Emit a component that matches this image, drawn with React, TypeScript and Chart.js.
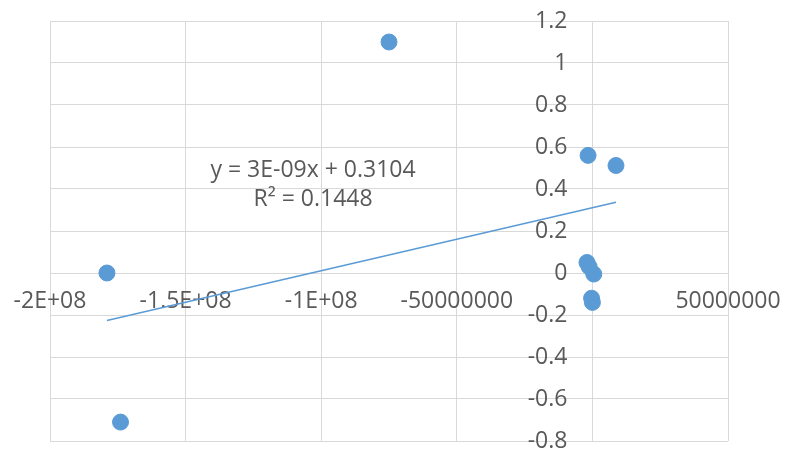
import { useEffect, useRef } from "react";
import { Chart, registerables } from "chart.js";

Chart.register(...registerables);

// ---- data ----
const xValues = [-1.79e8, -1.74e8, -7.5e7, -1.6e6, 8.7e6, -2.0e6, -1.2e6, 5e5, -3e5, 0];
const yValues = [0, -0.71, 1.1, 0.56, 0.512, 0.05, 0.03, -0.005, -0.12, -0.14];

const trendSlope = 3e-9;
const trendIntercept = 0.3104;
const trendLabelLines = ["y = 3E-09x + 0.3104", "R\u00B2 = 0.1448"];
const trendLabelX = -1.03e8;
const trendLabelY = [0.49, 0.35];

const xTickValues = [-2e8, -1.5e8, -1e8, -5e7, 0, 5e7];
const xTickLabels = ["-2E+08", "-1.5E+08", "-1E+08", "-50000000", "0", "50000000"];
const yTickValues = [-0.8, -0.6, -0.4, -0.2, 0, 0.2, 0.4, 0.6, 0.8, 1, 1.2];
const yTickLabels = ["-0.8", "-0.6", "-0.4", "-0.2", "0", "0.2", "0.4", "0.6", "0.8", "1", "1.2"];

const BLUE = "#5b9bd5";
const GRID = "#d9d9d9";
const TEXT = "#595959";
const FONT_FAMILY = "'Open Sans', 'Liberation Sans', Arial, sans-serif";
const FONT_SIZE = 23;

const labelsPlugin = {
  id: "customLabels",
  beforeDatasetsDraw(chart: any) {
    const { ctx, scales } = chart;
    const xs = scales.x;
    const ys = scales.y;
    const x0 = xs.getPixelForValue(0);
    const y0 = ys.getPixelForValue(0);
    ctx.save();
    ctx.fillStyle = TEXT;
    ctx.font = `${FONT_SIZE}px ${FONT_FAMILY}`;
    ctx.textAlign = "right";
    ctx.textBaseline = "middle";
    yTickValues.forEach((v, i) => {
      ctx.fillText(yTickLabels[i], x0 - 25, ys.getPixelForValue(v));
    });
    ctx.textAlign = "center";
    xTickValues.forEach((v, i) => {
      ctx.fillText(xTickLabels[i], xs.getPixelForValue(v), y0 + 28);
    });
    ctx.restore();
  },
  afterDatasetsDraw(chart: any) {
    const { ctx, scales } = chart;
    const tx = scales.x.getPixelForValue(trendLabelX);
    ctx.save();
    ctx.fillStyle = TEXT;
    ctx.font = `${FONT_SIZE}px ${FONT_FAMILY}`;
    ctx.textAlign = "center";
    ctx.textBaseline = "middle";
    trendLabelLines.forEach((line, i) => {
      ctx.fillText(line, tx, scales.y.getPixelForValue(trendLabelY[i]));
    });
    ctx.restore();
  },
};

function zeroFit(scale: any) {
  if (scale.isHorizontal()) scale.height = 0;
  else scale.width = 0;
  scale.paddingLeft = 0;
  scale.paddingRight = 0;
  scale.paddingTop = 0;
  scale.paddingBottom = 0;
}

export default function App() {
  const canvasRef = useRef<HTMLCanvasElement | null>(null);

  useEffect(() => {
    document.body.style.margin = "0";
    const canvas = canvasRef.current;
    if (!canvas) return;

    const points = xValues.map((x, i) => ({ x, y: yValues[i] }));
    const minX = Math.min(...xValues);
    const maxX = Math.max(...xValues);
    const trend = [
      { x: minX, y: trendSlope * minX + trendIntercept },
      { x: maxX, y: trendSlope * maxX + trendIntercept },
    ];

    const chart = new Chart(canvas, {
      type: "scatter",
      data: {
        datasets: [
          {
            label: "Trend",
            data: trend,
            showLine: true,
            borderColor: BLUE,
            borderWidth: 1.5,
            pointRadius: 0,
            pointHoverRadius: 0,
            fill: false,
            order: 2,
          } as any,
          {
            label: "Series",
            data: points,
            backgroundColor: BLUE,
            borderColor: BLUE,
            borderWidth: 1,
            pointRadius: 8,
            order: 1,
          },
        ],
      },
      options: {
        responsive: false,
        animation: false,
        layout: { padding: { left: 50, right: 58, top: 21, bottom: 13 } },
        plugins: {
          legend: { display: false },
          tooltip: { enabled: false },
        },
        scales: {
          x: {
            type: "linear",
            position: { y: 0 } as any,
            min: xTickValues[0],
            max: xTickValues[xTickValues.length - 1],
            afterBuildTicks: (axis: any) => {
              axis.ticks = xTickValues.map((v) => ({ value: v }));
            },
            afterFit: zeroFit,
            grid: { color: GRID, lineWidth: 1, drawTicks: false },
            border: { color: GRID, width: 1 },
            ticks: { display: false },
          },
          y: {
            type: "linear",
            position: { x: 0 } as any,
            min: yTickValues[0],
            max: yTickValues[yTickValues.length - 1],
            afterBuildTicks: (axis: any) => {
              axis.ticks = yTickValues.map((v) => ({ value: v }));
            },
            afterFit: zeroFit,
            grid: { color: GRID, lineWidth: 1, drawTicks: false },
            border: { color: GRID, width: 1 },
            ticks: { display: false },
          },
        },
      },
      plugins: [labelsPlugin],
    });

    return () => chart.destroy();
  }, []);

  return (
    <div style={{ position: "absolute", left: 0, top: 0, width: 786, height: 454, background: "#fff" }}>
      <canvas ref={canvasRef} width={786} height={454} />
    </div>
  );
}
